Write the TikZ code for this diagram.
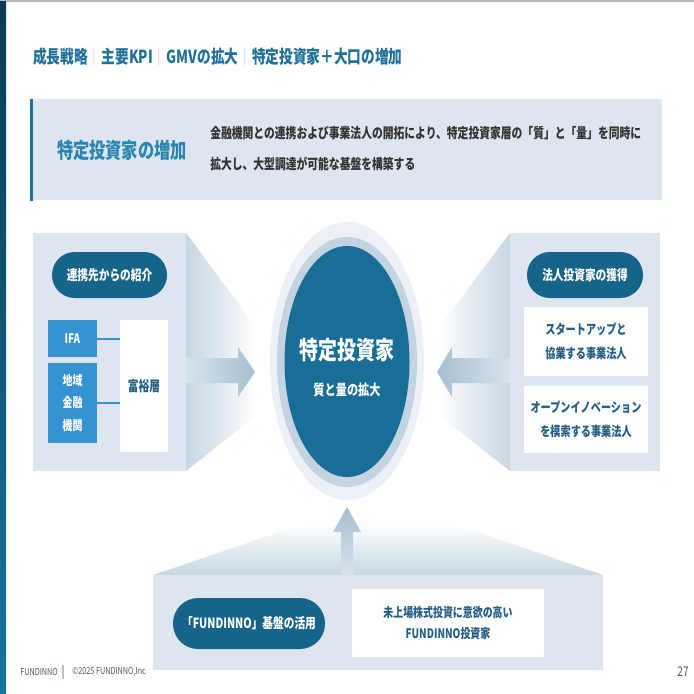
\documentclass[tikz,border=0pt]{standalone}
\usepackage{fontspec}
\setmainfont{Noto Sans CJK JP}[FakeStretch=0.76]
\usetikzlibrary{positioning}
\definecolor{ink}{HTML}{333333}
\definecolor{titleC}{HTML}{21709A}
\definecolor{headC}{HTML}{2A86B0}
\definecolor{panelC}{HTML}{DDE6EE}
\definecolor{pillC}{HTML}{17648A}
\definecolor{blueC}{HTML}{3593D4}
\definecolor{cardC}{HTML}{235E85}
\definecolor{coreC}{HTML}{186E97}
\definecolor{ringC}{HTML}{C3D3DF}
\definecolor{haloC}{HTML}{EBF1F6}
\definecolor{funnelC}{HTML}{C6D6E2}
\definecolor{arrowC}{HTML}{A6BFD1}
\definecolor{barTop}{HTML}{0D3A52}
\definecolor{barBot}{HTML}{17759F}
\definecolor{sepC}{HTML}{B8C4CC}
\definecolor{footC}{HTML}{555555}
\newcommand\pxu{0.25mm}

\begin{document}
\begin{tikzpicture}[x=0.25mm, y=-0.25mm,
    every node/.style={inner sep=0pt, text=ink},
    pill/.style={fill=pillC, rounded corners=5.7mm, text=white, minimum height=46*\pxu,
                 font=\bfseries\fontsize{10}{12}\selectfont},
    card/.style={fill=white, text=cardC, align=center,
                 font=\bfseries\fontsize{9.5}{17}\selectfont},
    bluebox/.style={fill=blueC, text=white, align=center, minimum width=49*\pxu,
                    font=\bfseries\fontsize{9.3}{16}\selectfont},
    panel/.style={fill=panelC, anchor=north west},
    link/.style={draw=blueC, line width=0.5mm},
  ]
  \useasboundingbox (0,0) rectangle (694,694);

  % page frame
  \fill[gray!55] (0,0) rectangle (694,2);
  \shade[top color=barTop, bottom color=barBot] (0,2) rectangle (6,694);

  % page title
  \node[anchor=west, text=titleC, font=\bfseries\fontsize{12.8}{16}\selectfont] (title) at (33,57)
        {成長戦略\textcolor{sepC}{\mdseries ｜}主要KPI\textcolor{sepC}{\mdseries ｜}GMVの拡大\textcolor{sepC}{\mdseries ｜}特定投資家＋大口の増加};

  % header band
  \node[panel, minimum width=632*\pxu, minimum height=101*\pxu] (band) at (30,99) {};
  \fill[titleC] (band.north west) rectangle ([xshift=3*\pxu]band.south west);
  \node[text=headC, font=\bfseries\fontsize{15.2}{18}\selectfont] (bandtitle) at (122,150) {特定投資家の増加};
  \node[anchor=west, align=left, font=\bfseries\fontsize{10.1}{22}\selectfont] (bandtext) at (210,148.5)
        {金融機関との連携および事業法人の開拓により、特定投資家層の「質」と「量」を同時に\\
         拡大し、大型調達が可能な基盤を構築する};

  % funnels and arrows toward the centre
  \shade[left color=funnelC, right color=white] (186,233) -- (258,330) -- (258,414) -- (186,471) -- cycle;
  \shade[left color=funnelC!70!white, right color=arrowC]
        (186,358) -- (238,358) -- (238,347) -- (255,372) -- (238,397) -- (238,383) -- (186,383) -- cycle;
  \shade[left color=white, right color=funnelC] (510,233) -- (437,330) -- (437,414) -- (510,471) -- cycle;
  \shade[left color=arrowC, right color=funnelC!70!white]
        (510,358) -- (452,358) -- (452,347) -- (437,372) -- (452,397) -- (452,383) -- (510,383) -- cycle;
  \shade[top color=white, bottom color=funnelC] (153,575) -- (303,524) -- (454,524) -- (603,575) -- cycle;
  \shade[top color=arrowC, bottom color=funnelC!70!white]
        (341,575) -- (341,532) -- (333,532) -- (347,507) -- (361,532) -- (353,532) -- (353,575) -- cycle;

  % left panel
  \node[panel, minimum width=153*\pxu, minimum height=238*\pxu] (lpanel) at (33,233) {};
  \node[pill, minimum width=115*\pxu] (intro) at (109.5,275) {連携先からの紹介};
  \node[bluebox, minimum height=37*\pxu] (ifa) at (72.5,338.5) {IFA};
  \node[bluebox, minimum height=80*\pxu] (bank) at (72.5,403) {地域\\金融\\機関};
  \node[card, minimum width=48*\pxu, minimum height=132*\pxu,
        font=\bfseries\fontsize{10}{12}\selectfont] (rich) at (144,386) {富裕層};
  \draw[link] (ifa.east) -- (ifa.east -| rich.west);
  \draw[link] (bank.east) -- (bank.east -| rich.west);

  % centre
  \fill[haloC] (347,361) ellipse [x radius=77, y radius=139];
  \fill[ringC] (347,362) ellipse [x radius=70, y radius=125];
  \fill[coreC] (347,361.5) ellipse [x radius=62.5, y radius=115.5];
  \node[text=white, font=\bfseries\fontsize{17.7}{20}\selectfont] (core) at (347,350) {特定投資家};
  \node[text=white, font=\bfseries\fontsize{10.5}{12}\selectfont] (coresub) at (347,390) {質と量の拡大};

  % right panel
  \node[panel, minimum width=150*\pxu, minimum height=238*\pxu] (rpanel) at (510,233) {};
  \node[pill, minimum width=116*\pxu] (corp) at (585,275) {法人投資家の獲得};
  \node[card, minimum width=124*\pxu, minimum height=69*\pxu] (startup) at (586,341.5)
        {スタートアップと\\協業する事業法人};
  \node[card, minimum width=124*\pxu, minimum height=67*\pxu] (openinno) at (586,419.5)
        {オープンイノベーション\\を模索する事業法人};

  % bottom panel
  \node[panel, minimum width=450*\pxu, minimum height=95*\pxu] (bpanel) at (153,575) {};
  \node[pill, minimum width=152*\pxu, minimum height=51*\pxu, rounded corners=6.3mm] (base) at (249,623.5)
        {「FUNDINNO」基盤の活用};
  \node[card, minimum width=192*\pxu, minimum height=68*\pxu,
        font=\bfseries\fontsize{9.3}{15.6}\selectfont] (crowd) at (448,623)
        {未上場株式投資に意欲の高い\\FUNDINNO投資家};

  % footer
  \node[anchor=west, text=footC, font=\fontsize{6.8}{8}\selectfont] (brand) at (20,672) {FUNDINNO};
  \node[anchor=west, text=footC, font=\fontsize{6.8}{8}\selectfont] (copy) at (72,672) {©2025 FUNDINNO,Inc};
  \draw[sepC, line width=0.3mm] (63,665) -- (63,679);
  \node[anchor=east, text=footC, font=\fontsize{9.5}{11}\selectfont] (page) at (689,672) {27};
\end{tikzpicture}
\end{document}
